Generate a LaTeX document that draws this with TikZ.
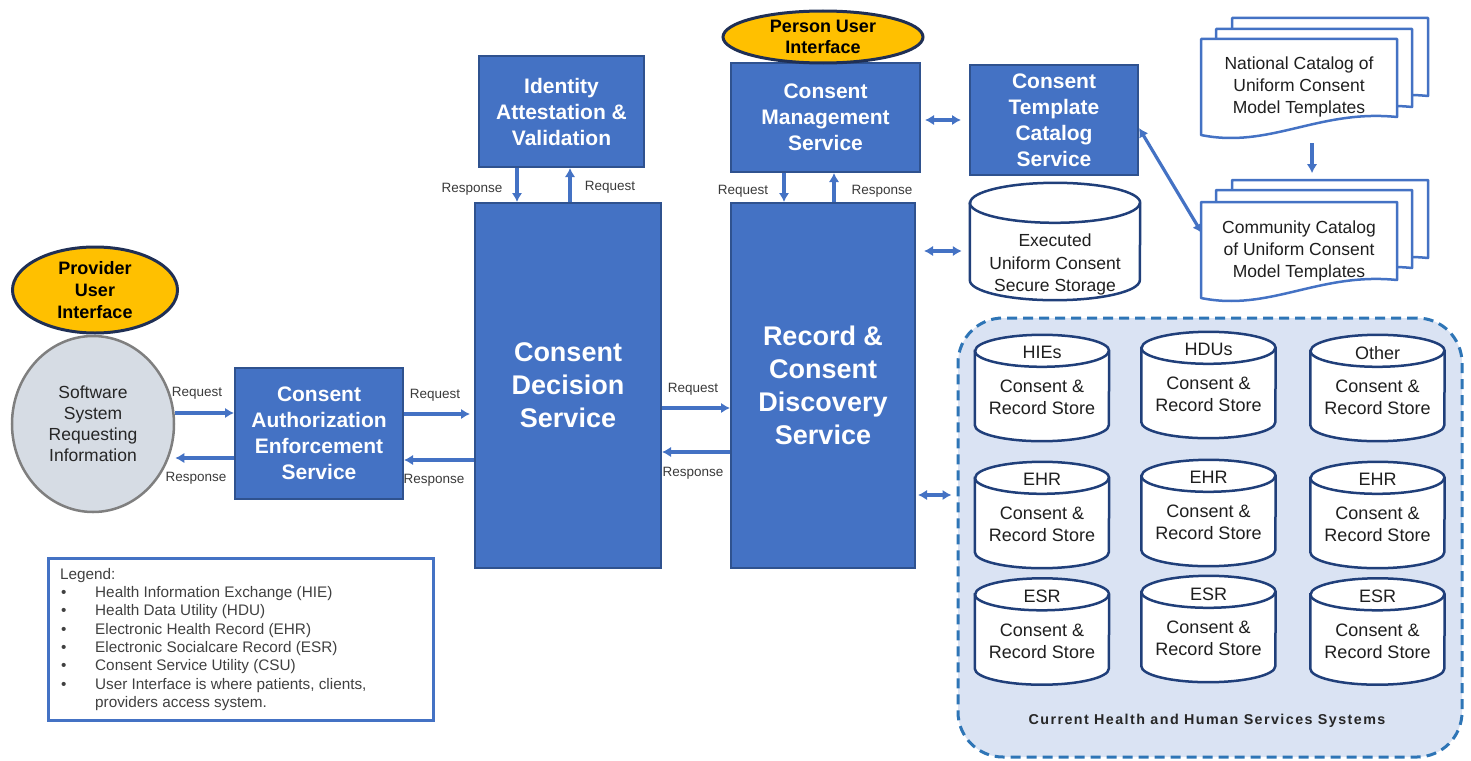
\documentclass[tikz,border=0pt]{standalone}
\usepackage{fontspec}
\setmainfont{Liberation Sans}
\newfontfamily\spacedfont[LetterSpace=10]{Liberation Sans}
\usetikzlibrary{arrows.meta,calc,shapes.geometric}

\definecolor{svcblue}{HTML}{4472C4}
\definecolor{svcedge}{HTML}{2F528F}
\definecolor{uigold}{HTML}{FFC000}
\definecolor{uiedge}{HTML}{1F2F55}
\definecolor{sysgray}{HTML}{D6DCE4}
\definecolor{sysedge}{HTML}{7F7F7F}
\definecolor{regionfill}{HTML}{DAE3F3}
\definecolor{regionedge}{HTML}{2E75B6}
\definecolor{cyledge}{HTML}{203F7A}
\definecolor{labelgray}{HTML}{3A3A3A}
\definecolor{legendtext}{HTML}{404040}

\tikzset{
  svc/.style={draw=svcedge, line width=2pt, fill=svcblue, text=white, align=center,
    inner sep=0pt, font=\bfseries\fontsize{21}{26}\selectfont},
  bigsvc/.style={svc, font=\bfseries\fontsize{27}{33}\selectfont},
  uiell/.style={ellipse, fill=uigold, draw=uiedge, line width=3pt, inner sep=0pt,
    align=center, font=\bfseries\fontsize{18}{22}\selectfont},
  flow/.style={draw=svcblue, line width=3.2pt, -{Latex[length=9pt,width=10.5pt]}},
  twoway/.style={draw=svcblue, line width=3.2pt,
    {Latex[length=9pt,width=10.5pt]}-{Latex[length=9pt,width=10.5pt]}},
  lbl/.style={text=labelgray, inner sep=0pt, font=\fontsize{13.5}{15}\selectfont},
  cylbox/.style={rectangle, draw=none, inner sep=0pt},
  cylline/.style={draw=cyledge, line width=2.5pt, fill=white},
  cyltext/.style={inner sep=0pt, align=center, text=black!88,
    font=\fontsize{18}{22}\selectfont},
  docline/.style={draw=svcblue, line width=2.5pt, fill=white, line join=round},
  doctext/.style={inner sep=0pt, align=center, text=black!88,
    font=\fontsize{17.5}{22}\selectfont},
}

% database cylinder: name, centre x, centre y, width, height, rim radius
\newcommand{\dbcyl}[6]{%
  \node[cylbox, minimum width=#4pt, minimum height=#5pt] (#1) at (#2,#3) {};
  \draw[cylline] ($(#1.north west)+(0,#6)$) -- ($(#1.south west)+(0,-#6)$)
    arc[start angle=180, end angle=360, x radius=0.5*#4pt, y radius=#6pt]
    -- ($(#1.north east)+(0,#6)$)
    arc[start angle=0, end angle=180, x radius=0.5*#4pt, y radius=#6pt] -- cycle;
  \draw[cylline, fill=none] ($(#1.north west)+(0,#6)$)
    arc[start angle=180, end angle=360, x radius=0.5*#4pt, y radius=#6pt];
}
% consent & record store: name, centre x, centre y, heading
\newcommand{\recstore}[4]{%
  \dbcyl{#1}{#2}{#3}{134}{106}{16}
  \node[cyltext] (#1head) at ($(#1.north)+(0,18)$) {#4};
  \node[cyltext] (#1body) at ($(#1.center)+(0,9.5)$) {Consent \&\\Record Store};
}
% document page with wavy bottom: left, top, width, height
\newcommand{\docpage}[4]{%
  \pgfmathsetmacro\pgRight{#1+#3}
  \pgfmathsetmacro\pgBot{#2+#4}
  \pgfmathsetmacro\pgBotR{#2+#4-18}
  \pgfmathsetmacro\pgCax{#1+0.6*#3}
  \pgfmathsetmacro\pgCay{#2+#4-26}
  \pgfmathsetmacro\pgCbx{#1+0.35*#3}
  \pgfmathsetmacro\pgCby{#2+#4+14}
  \draw[docline] (#1,#2) -- (\pgRight,#2) -- (\pgRight,\pgBotR)
    .. controls (\pgCax,\pgCay) and (\pgCbx,\pgCby) .. (#1,\pgBot) -- cycle;
}

\begin{document}
\begin{tikzpicture}[x=1pt,y=-1pt]
\useasboundingbox (0,0) rectangle (1471,760);

% ---------- existing systems region ----------
\node[draw=regionedge, fill=regionfill, line width=3pt, dash pattern=on 10pt off 6pt,
  rounded corners=45pt, minimum width=504pt, minimum height=439pt, inner sep=0pt]
  (region) at (1210,537.5) {};
\node[inner sep=0pt, font=\spacedfont\bfseries\fontsize{14.3}{16}\selectfont, text=black!85]
  (regionlbl) at (1207,721) {Current Health and Human Services Systems};

\recstore{hie}{1042}{388}{HIEs}
\recstore{hdu}{1208.5}{385}{HDUs}
\recstore{oth}{1377.5}{388}{Other}
\recstore{ehra}{1042}{515}{EHR}
\recstore{ehrb}{1208.5}{513}{EHR}
\recstore{ehrc}{1377.5}{515}{EHR}
\recstore{esra}{1042}{631.5}{ESR}
\recstore{esrb}{1208.5}{629}{ESR}
\recstore{esrc}{1377.5}{631.5}{ESR}

% ---------- requesting side ----------
\node[uiell, minimum width=165pt, minimum height=86pt] (provui) at (95,290)
  {Provider\\User\\Interface};
\node[ellipse, fill=sysgray, draw=sysedge, line width=2.5pt, inner sep=0pt,
  minimum width=162pt, minimum height=176pt, align=center, text=black!85,
  font=\fontsize{17.5}{21}\selectfont] (sys) at (93,424)
  {Software\\System\\Requesting\\Information};

\node[svc, minimum width=168pt, minimum height=131pt] (caes) at (319,433.5)
  {Consent\\Authorization\\Enforcement\\Service};

% ---------- core services ----------
\node[bigsvc, minimum width=186pt, minimum height=365pt] (cds) at (568,385.5)
  {Consent\\Decision\\Service};
\node[bigsvc, minimum width=184pt, minimum height=365pt] (rcds) at (823,385.5)
  {Record \&\\Consent\\Discovery\\Service};
\node[svc, minimum width=165pt, minimum height=111pt] (iav) at (561.5,111.5)
  {Identity\\Attestation \&\\Validation};
\node[svc, minimum width=189pt, minimum height=109pt] (cms) at (825.5,117.5)
  {Consent\\Management\\Service};
\node[uiell, minimum width=200pt, minimum height=52pt,
  font=\bfseries\fontsize{18}{21}\selectfont] (persui) at (823,37)
  {Person User\\Interface};
\node[svc, minimum width=168pt, minimum height=110pt] (ctcs) at (1054,120)
  {Consent\\Template\\Catalog\\Service};

% executed consent storage
\dbcyl{store}{1055}{241.5}{170}{117}{20}
\node[cyltext, font=\fontsize{17.5}{22.5}\selectfont] (storetext)
  at ($(store.center)+(0,23)$) {Executed\\Uniform Consent\\Secure Storage};

% ---------- template catalogues ----------
\docpage{1232}{18}{196}{96}
\docpage{1216}{29}{196}{96}
\docpage{1201}{39}{196}{96}
\node[doctext, minimum width=196pt, minimum height=96pt] (natdoc) at (1299,87)
  {National Catalog of\\Uniform Consent\\Model Templates};
\docpage{1232}{180}{196}{96}
\docpage{1216}{190}{196}{96}
\docpage{1201}{202}{196}{96}
\node[doctext, minimum width=196pt, minimum height=96pt] (comdoc) at (1299,251)
  {Community Catalog\\of Uniform Consent\\Model Templates};

% ---------- connectors ----------
% software system <-> enforcement
\coordinate (sysreq) at ($(caes.west)+(0,-20.5)$);
\coordinate (sysresp) at ($(caes.west)+(0,24.5)$);
\draw[flow] (sys.east |- sysreq) -- (sysreq);
\draw[flow] (sysresp) -- (sys.east |- sysresp);
\node[lbl] (l1) at (197,393) {Request};
\node[lbl] (l2) at (196,478) {Response};

% enforcement <-> decision
\coordinate (cdsreq) at ($(cds.west)+(-4,28.5)$);
\coordinate (cdsresp) at ($(cds.west)+(0,74.5)$);
\draw[flow] (caes.east |- cdsreq) -- (cdsreq);
\draw[flow] (cdsresp) -- (caes.east |- cdsresp);
\node[lbl] (l3) at (435,395) {Request};
\node[lbl] (l4) at (434,480) {Response};

% decision <-> discovery
\coordinate (rcdsreq) at ($(rcds.west)+(0,22.5)$);
\coordinate (rcdsresp) at ($(rcds.west)+(0,66.5)$);
\draw[flow] (cds.east |- rcdsreq) -- (rcdsreq);
\draw[flow] (rcdsresp) -- (cds.east |- rcdsresp);
\node[lbl] (l5) at (693,389) {Request};
\node[lbl] (l6) at (693,473) {Response};

% identity service <-> decision
\coordinate (iavdown) at ($(iav.south)+(-44.5,0)$);
\coordinate (iavup) at ($(iav.south)+(8.5,0)$);
\draw[flow] (iavdown) -- (iavdown |- cds.north);
\draw[flow] (iavup |- cds.north) -- (iavup);
\node[lbl] (l7) at (472,189) {Response};
\node[lbl] (l8) at (610,187) {Request};

% management <-> discovery
\coordinate (cmsdown) at ($(cms.south)+(-41.5,0)$);
\coordinate (cmsup) at ($(cms.south)+(8.5,0)$);
\draw[flow] (cmsdown) -- (cmsdown |- rcds.north);
\draw[flow] (cmsup |- rcds.north) -- (cmsup);
\node[lbl] (l9) at (743,191) {Request};
\node[lbl] (l10) at (882,191) {Response};

% two-way links on the right
\coordinate (cmsctcs) at ($(cms.east)+(0,2.5)$);
\draw[twoway, shorten <=4pt, shorten >=8pt] (cmsctcs) -- (cmsctcs -| ctcs.west);
\coordinate (rcdsstore) at ($(rcds.east |- store.center)+(0,9.5)$);
\draw[twoway, shorten <=8pt, shorten >=8pt] (rcdsstore) -- (rcdsstore -| store.west);
\coordinate (rcdsregion) at ($(rcds.east)+(0,109.5)$);
\draw[twoway, shorten <=2pt, shorten >=5pt] (rcdsregion) -- (rcdsregion -| region.west);
\coordinate (ctcsout) at ($(ctcs.east)+(0,8)$);
\coordinate (comin) at ($(comdoc.west)+(1,-18)$);
\draw[twoway] (ctcsout) -- (comin);

% national -> community catalogue
\coordinate (natout) at ($(natdoc.south)+(13,8)$);
\coordinate (comtop) at ($(natdoc.south)+(13,38)$);
\draw[flow] (natout) -- (comtop);

% ---------- legend ----------
\node[draw=svcblue, line width=3pt, minimum width=385pt, minimum height=162pt,
  inner sep=0pt] (legend) at (241,639) {};
\node[anchor=north west, align=left, inner sep=0pt, text=legendtext,
  font=\fontsize{15.3}{18.3}\selectfont] (legendtext) at (60,568)
  {Legend:\\
   \hspace*{1pt}\makebox[34pt][l]{•}Health Information Exchange (HIE)\\
   \hspace*{1pt}\makebox[34pt][l]{•}Health Data Utility (HDU)\\
   \hspace*{1pt}\makebox[34pt][l]{•}Electronic Health Record (EHR)\\
   \hspace*{1pt}\makebox[34pt][l]{•}Electronic Socialcare Record (ESR)\\
   \hspace*{1pt}\makebox[34pt][l]{•}Consent Service Utility (CSU)\\
   \hspace*{1pt}\makebox[34pt][l]{•}User Interface is where patients, clients,\\
   \hspace*{35pt}providers access system.};
\end{tikzpicture}
\end{document}
